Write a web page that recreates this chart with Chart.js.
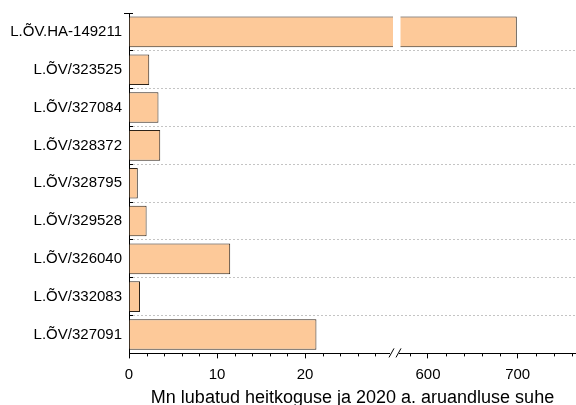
<!DOCTYPE html>
<html>
<head>
<meta charset="utf-8">
<script src="https://cdn.jsdelivr.net/npm/chart.js@4.4.1/dist/chart.umd.min.js"></script>
<style>
  body { margin: 0; background: #fff; }
  #wrap { width: 576px; height: 405px; }
</style>
</head>
<body>
<div id="wrap"><canvas id="grafica"></canvas></div>
<script>
// andmed
const categories = ["L.ÕV.HA-149211", "L.ÕV/323525", "L.ÕV/327084", "L.ÕV/328372", "L.ÕV/328795",
                    "L.ÕV/329528", "L.ÕV/326040", "L.ÕV/332083", "L.ÕV/327091"];
const ratios = [699, 2.3, 3.35, 3.55, 1.0, 2.0, 11.5, 1.25, 21.3];

// katkestatud telg: vasak osa 0..30, parem osa 561..765
const lowRange = [0, 30];
const highRange = [561, 765];
const lowTicks = [0, 10, 20];
const highTicks = [600, 700];
const lowMinorStep = 2;
const highMinorStep = 20;

const axisTitle = "Mn lubatud heitkoguse ja 2020 a. aruandluse suhe";

const FILL = "#fdc999";
const EDGE = "#2e2318";
const FONT = "'Liberation Sans', Arial, sans-serif";

// vasaku osa ribad (lõigatud katkestuse kohal)
const lowData = ratios.map(v => Math.min(v, lowRange[1]));
const highData = ratios.map(v => v > lowRange[1] ? v : null);

const breakPlugin = {
    id: "break",
    afterDatasetsDraw(chart) {
        const ctx = chart.ctx;
        const x = chart.scales.x, x2 = chart.scales.x2;
        const bottom = chart.chartArea.bottom;
        const top = chart.chartArea.top;

        ctx.save();
        ctx.strokeStyle = "#000";
        ctx.lineWidth = 1;
        ctx.beginPath();
        // y-telje ülemine kork
        ctx.moveTo(x.left - 5, Math.round(top) + 0.5); ctx.lineTo(x.left + 4, Math.round(top) + 0.5);
        // väikesed jaotised
        for (let v = lowRange[0]; v < lowRange[1]; v += lowMinorStep) {
            if (v % 10 == 0) continue;
            const px = Math.round(x.getPixelForValue(v)) + 0.5;
            ctx.moveTo(px, bottom); ctx.lineTo(px, bottom + 3);
        }
        for (let v = 580; v < highRange[1]; v += highMinorStep) {
            if (v % 100 == 0) continue;
            const px = Math.round(x2.getPixelForValue(v)) + 0.5;
            ctx.moveTo(px, bottom); ctx.lineTo(px, bottom + 3);
        }
        ctx.stroke();

        // valge vahe ribas
        const gx = x.right;
        const meta = chart.getDatasetMeta(1);
        meta.data.forEach((bar, i) => {
            if (highData[i] == null) return;
            const h = bar.height;
            ctx.fillStyle = "#fff";
            ctx.fillRect(gx, bar.y - h / 2 - 1, 7.5, h + 2);
        });

        // telje katkestus //
        ctx.fillStyle = "#fff";
        ctx.fillRect(gx - 3, bottom - 2, 9, 5);
        ctx.beginPath();
        ctx.moveTo(gx - 4, bottom + 4); ctx.lineTo(gx + 1, bottom - 5);
        ctx.moveTo(gx + 3, bottom + 4); ctx.lineTo(gx + 8, bottom - 5);
        ctx.stroke();
        ctx.restore();
    }
};

const xCommon = {
    type: "linear",
    position: "bottom",
    stack: "xs",
    border: { display: true, color: "#000", width: 1 },
    grid: { drawOnChartArea: false, drawTicks: true, tickLength: 5, tickColor: "#000" },
    ticks: { color: "#000", font: { family: FONT, size: 15 }, padding: 7, maxRotation: 0 },
    afterFit: s => { s.height = 34; }
};

new Chart(document.getElementById("grafica"), {
    type: "bar",
    data: {
        labels: categories,
        datasets: [
            {
                data: lowData,
                xAxisID: "x",
                grouped: false,
                backgroundColor: FILL,
                borderColor: EDGE,
                borderWidth: ctx => ({ top: 1, bottom: 1, left: 0,
                    right: ratios[ctx.dataIndex] > lowRange[1] ? 0 : 1 }),
                borderSkipped: false,
                barPercentage: 0.81,
                categoryPercentage: 1
            },
            {
                data: highData,
                xAxisID: "x2",
                base: highRange[0],
                grouped: false,
                backgroundColor: FILL,
                borderColor: EDGE,
                borderWidth: { top: 1, bottom: 1, left: 0, right: 1 },
                borderSkipped: false,
                barPercentage: 0.81,
                categoryPercentage: 1
            }
        ]
    },
    options: {
        indexAxis: "y",
        responsive: true,
        maintainAspectRatio: false,
        animation: false,
        layout: { padding: { top: 13, right: 0, left: 0, bottom: 0 } },
        plugins: {
            legend: { display: false },
            tooltip: { enabled: false },
            title: {
                display: true,
                position: "bottom",
                fullSize: false,
                text: axisTitle,
                color: "#000",
                font: { family: FONT, size: 18, weight: "normal" },
                padding: { top: 0, bottom: -4 }
            }
        },
        scales: {
            y: {
                type: "category",
                offset: true,
                border: { display: false, dash: [2, 2] },
                grid: {
                    offset: true,
                    color: c => c.index == 0 ? "rgba(0,0,0,0)" : "#c4c4c4",
                    tickColor: "#000",
                    tickBorderDash: [],
                    tickLength: -4
                },
                ticks: { color: "#000", font: { family: FONT, size: 15 }, padding: 11 },
                afterFit: s => { s.width = 129; s.paddingTop = 0; s.paddingBottom = 0; }
            },
            x: Object.assign({}, xCommon, {
                min: lowRange[0], max: lowRange[1],
                stackWeight: 264,
                // y-telje joon = x-i 0-jaotise ruudujoon
                grid: { drawOnChartArea: true, drawTicks: true, tickLength: 5, tickColor: "#000",
                        color: c => c.tick && c.tick.value == 0 ? "#000" : "rgba(0,0,0,0)" },
                afterBuildTicks: s => { s.ticks = lowTicks.map(v => ({ value: v })); }
            }),
            x2: Object.assign({}, xCommon, {
                min: highRange[0], max: highRange[1],
                stackWeight: 183,
                afterBuildTicks: s => { s.ticks = highTicks.map(v => ({ value: v })); }
            })
        }
    },
    plugins: [breakPlugin]
});
</script>
</body>
</html>
